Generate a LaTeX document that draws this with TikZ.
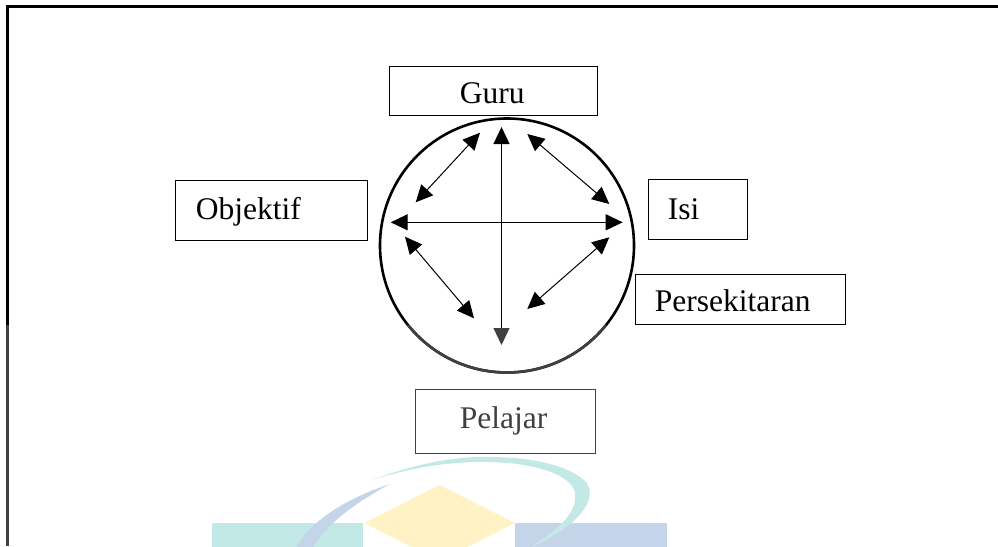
\documentclass[tikz,border=0pt]{standalone}
\usepackage{fontspec}
\setmainfont{Liberation Serif}
\usetikzlibrary{arrows.meta}
\definecolor{fadedink}{HTML}{404040}
\definecolor{marktealc}{HTML}{C3E9E6}
\definecolor{markyellow}{HTML}{FFF3C6}
\definecolor{markblue}{HTML}{C4D4E9}
\tikzset{
  labelbox/.style n args={4}{draw,anchor=north west,line width=0.8pt,inner ysep=0pt,
    align=left,font=\fontsize{31.5}{36}\selectfont,
    inner xsep=#1,text width=#2,text height=#3,text depth=#4},
  bothtips/.style={{Triangle[length=17pt,width=16pt]}-{Triangle[length=17pt,width=16pt]},line width=#1},
  bothtips/.default=1pt
}
\begin{document}
\begin{tikzpicture}[x=1pt,y=-1pt]
\useasboundingbox (0,0) rectangle (998,546);

% watermark:
\begin{scope}
\clip (0,0) rectangle (998,546);
\fill[marktealc] (212,523) rectangle (363,570);
\fill[markblue] (515,523) rectangle (667,570);
\fill[markyellow] (364,523) -- (439.5,485) -- (515,523) -- (439.5,561) -- cycle;
\fill[marktealc] (372,480) .. controls (420,462) and (460,456) .. (490,457)
  .. controls (530,457) and (570,465) .. (587,483)
  .. controls (597,500) and (580,525) .. (530,548)
  .. controls (555,530) and (578,515) .. (575,493)
  .. controls (572,475) and (535,463) .. (490,462)
  .. controls (450,461) and (410,468) .. (372,480) -- cycle;
\fill[markblue] (390,484) .. controls (350,497) and (310,520) .. (296,548)
  -- (313,548) .. controls (325,525) and (355,503) .. (390,484) -- cycle;
\end{scope}

% frame:
\draw[line width=3pt] (7.3,325) -- (7.3,6.3) -- (998,6.3);
\draw[line width=3pt,fadedink] (7.3,325) -- (7.3,546);

% ring:
\draw[line width=2.6pt] (507,245.5) circle (127);
\begin{scope}
\clip (0,325) rectangle (998,546);
\draw[line width=2.6pt,fadedink] (507,245.5) circle (127);
\end{scope}

% labels:
\node[labelbox={71pt}{66pt}{38pt}{11pt}] (guru) at (388.5,65.5) {Guru};
\node[labelbox={21pt}{150pt}{40pt}{20pt}] (objektif) at (174.5,179.5) {Objektif};
\node[labelbox={20pt}{59pt}{41pt}{19pt}] (isi) at (647.5,178.5) {Isi};
\node[labelbox={20pt}{170pt}{38pt}{12pt}] (persekitaran) at (634.5,273.5) {Persekitaran};
\node[labelbox={45pt}{90pt}{40pt}{24pt},text=fadedink,draw=fadedink] (pelajar) at (414.5,388.5) {Pelajar};

% arrow ends:
\coordinate (axisN) at (501.5,127);
\coordinate (axisS) at (501.5,345);
\coordinate (axisW) at (390.7,222.3);
\coordinate (axisE) at (622.7,222.3);
\coordinate (nwA) at (480,132.7);
\coordinate (nwB) at (415.7,202.3);
\coordinate (neA) at (527.3,134);
\coordinate (neB) at (609.3,204);
\coordinate (swA) at (405,236.7);
\coordinate (swB) at (474,318.3);
\coordinate (seA) at (609.3,237.3);
\coordinate (seB) at (527.3,309);

\draw[{Triangle[length=17pt,width=16pt]}-{Triangle[length=17pt,width=16pt,color=fadedink]},line width=1.2pt] (axisN) -- (axisS);
\draw[bothtips=1.2pt] (axisW) -- (axisE);
\draw[bothtips] (nwA) -- (nwB);
\draw[bothtips] (neA) -- (neB);
\draw[bothtips] (swA) -- (swB);
\draw[bothtips] (seA) -- (seB);

\end{tikzpicture}
\end{document}
